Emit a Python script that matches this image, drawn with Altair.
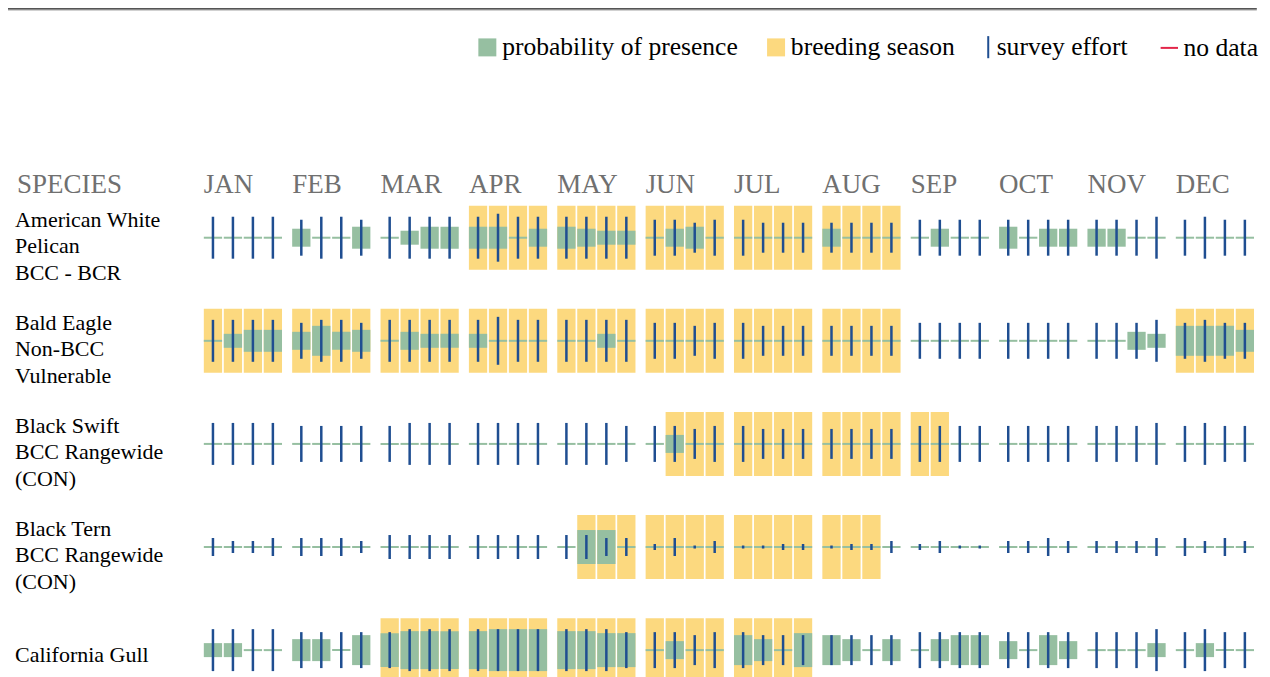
import altair as alt
import pandas as pd

# ---------------- data ----------------
MONTHS = ["JAN", "FEB", "MAR", "APR", "MAY", "JUN", "JUL", "AUG", "SEP", "OCT", "NOV", "DEC"]
WEEKS = ["W1", "W2", "W3", "W4"]

SPECIES = ["American White Pelican", "Bald Eagle", "Black Swift", "Black Tern", "California Gull"]
SPECIES_LABELS = [
    "American White\nPelican\nBCC - BCR",
    "Bald Eagle\nNon-BCC\nVulnerable",
    "Black Swift\nBCC Rangewide\n(CON)",
    "Black Tern\nBCC Rangewide\n(CON)",
    "California Gull",
]

# probability of presence, 0-10, four weeks per month (JAN..DEC)
PRESENCE = {
    "American White Pelican": [0, 0, 0, 0, 4, 0, 0, 5, 0, 3, 5, 5, 5, 5, 0, 4, 5, 4, 3, 3, 0, 4, 5, 0,
                               0, 0, 0, 0, 4, 0, 0, 0, 0, 4, 0, 0, 5, 0, 4, 4, 4, 4, 0, 0, 0, 0, 0, 0],
    "Bald Eagle":             [0, 3, 5, 5, 4, 7, 4, 5, 0, 4, 3, 3, 3, 0, 0, 0, 0, 0, 3, 0, 0, 0, 0, 0,
                               0, 0, 0, 0, 0, 0, 0, 0, 0, 0, 0, 0, 0, 0, 0, 0, 0, 0, 4, 3, 7, 7, 7, 5],
    "Black Swift":            [0, 0, 0, 0, 0, 0, 0, 0, 0, 0, 0, 0, 0, 0, 0, 0, 0, 0, 0, 0, 0, 4, 0, 0,
                               0, 0, 0, 0, 0, 0, 0, 0, 0, 0, 0, 0, 0, 0, 0, 0, 0, 0, 0, 0, 0, 0, 0, 0],
    "Black Tern":             [0, 0, 0, 0, 0, 0, 0, 0, 0, 0, 0, 0, 0, 0, 0, 0, 0, 8, 8, 0, 0, 0, 0, 0,
                               0, 0, 0, 0, 0, 0, 0, 0, 0, 0, 0, 0, 0, 0, 0, 0, 0, 0, 0, 0, 0, 0, 0, 0],
    "California Gull":        [3, 3, 0, 0, 5, 5, 0, 7, 8, 9, 9, 9, 9, 10, 10, 10, 9, 9, 8, 8, 0, 4, 0, 0,
                               7, 5, 0, 8, 7, 5, 0, 5, 0, 5, 7, 7, 4, 0, 7, 4, 0, 0, 0, 3, 0, 3, 0, 0],
}

# survey effort level, 0-8
EFFORT = {
    "American White Pelican": [7, 7, 7, 7, 6, 7, 7, 6, 7, 7, 7, 7, 7, 8, 7, 7, 7, 7, 7, 7, 6, 6, 5, 6,
                               6, 5, 5, 5, 5, 5, 5, 5, 6, 6, 6, 6, 6, 6, 6, 6, 6, 6, 6, 7, 6, 7, 6, 6],
    "Bald Eagle":             [7, 7, 7, 7, 6, 7, 7, 6, 7, 7, 7, 7, 7, 8, 7, 7, 7, 7, 7, 7, 6, 6, 5, 6,
                               6, 5, 5, 5, 5, 5, 5, 5, 6, 6, 6, 6, 6, 6, 6, 6, 6, 6, 6, 7, 6, 7, 6, 6],
    "Black Swift":            [7, 7, 7, 7, 6, 6, 6, 6, 6, 7, 7, 7, 7, 7, 7, 7, 7, 7, 7, 6, 6, 6, 5, 6,
                               6, 5, 5, 5, 5, 5, 5, 5, 6, 6, 6, 6, 6, 6, 6, 6, 6, 6, 6, 7, 6, 7, 6, 6],
    "Black Tern":             [3, 2, 2, 3, 3, 3, 3, 2, 4, 4, 4, 4, 4, 4, 4, 4, 4, 4, 3, 3, 1, 3, 0, 2,
                               0, 0, 1, 1, 0, 1, 1, 2, 1, 2, 0, 0, 2, 2, 3, 2, 2, 2, 2, 3, 3, 2, 3, 2],
    "California Gull":        [7, 7, 7, 7, 6, 6, 6, 6, 6, 7, 7, 7, 7, 7, 7, 7, 7, 7, 7, 6, 6, 6, 5, 6,
                               6, 5, 5, 5, 5, 5, 5, 5, 6, 6, 6, 6, 6, 6, 6, 6, 6, 6, 6, 7, 6, 7, 6, 6],
}

# breeding season spans: (start month, start week, end month, end week)
BREEDING = {
    "American White Pelican": [("APR", 1, "AUG", 4)],
    "Bald Eagle": [("JAN", 1, "AUG", 4), ("DEC", 1, "DEC", 4)],
    "Black Swift": [("JUN", 2, "SEP", 2)],
    "Black Tern": [("MAY", 2, "AUG", 3)],
    "California Gull": [("MAR", 1, "JUL", 4)],
}

LEGEND_SQUARES = ["probability of presence", "breeding season"]
LEGEND_LINES = ["survey effort", "no data"]

# ---------------- styles ----------------
PRESENCE_COLOR = "#96BFA1"
BREEDING_COLOR = "#FCD97F"
EFFORT_COLOR = "#1F4E91"
NODATA_COLOR = "#E3264A"
GRAY = "#707070"
SERIF = "Liberation Serif"

PITCH = 103.2      # px per species row
CELL = 64.0        # px height of a week cell
BAR_BASE = 2.0     # px height of a zero-probability bar
BAR_STEP = 4.0     # px per probability level
EFF_STEP = 6.0     # px per effort level
EFF_MIN = 3.0
LINE_H = 26.6      # species label line height

W = 1051.2
H = 5 * PITCH


def week_index(m, w):
    return MONTHS.index(m) * 4 + (w - 1)


rows = []
for r, sp in enumerate(SPECIES):
    spans = [(week_index(a, b), week_index(c, d)) for a, b, c, d in BREEDING[sp]]
    for i in range(48):
        rows.append(dict(
            species=sp, row=r, month=MONTHS[i // 4], week=WEEKS[i % 4],
            prob=PRESENCE[sp][i], effort=EFFORT[sp][i],
            breeding=int(any(s <= i <= e for s, e in spans)),
        ))
df = pd.DataFrame(rows)

x_scale = alt.Scale(domain=MONTHS, paddingInner=0.115, paddingOuter=0)
xo_scale = alt.Scale(domain=WEEKS, paddingInner=0.085, paddingOuter=0)
y_scale = alt.Scale(domain=[0, 5], reverse=True, nice=False, zero=False)

x_enc = alt.X("month:N", scale=x_scale, axis=None)
xo_enc = alt.XOffset("week:N", scale=xo_scale)

base = alt.Chart(df).transform_calculate(
    b0=f"datum.row + 0.5 - {CELL / 2 / PITCH}",
    b1=f"datum.row + 0.5 + {CELL / 2 / PITCH}",
    p0=f"datum.row + 0.5 - ({BAR_BASE} + {BAR_STEP} * datum.prob) / {2 * PITCH}",
    p1=f"datum.row + 0.5 + ({BAR_BASE} + {BAR_STEP} * datum.prob) / {2 * PITCH}",
    e0=f"datum.row + 0.5 - max({EFF_STEP} * datum.effort, {EFF_MIN}) / {2 * PITCH}",
    e1=f"datum.row + 0.5 + max({EFF_STEP} * datum.effort, {EFF_MIN}) / {2 * PITCH}",
)

breeding = base.transform_filter("datum.breeding == 1").mark_bar(color=BREEDING_COLOR).encode(
    x=x_enc, xOffset=xo_enc,
    y=alt.Y("b0:Q", scale=y_scale, axis=None), y2="b1:Q",
)
presence = base.mark_bar(color=PRESENCE_COLOR).encode(
    x=x_enc, xOffset=xo_enc,
    y=alt.Y("p0:Q", scale=y_scale, axis=None), y2="p1:Q",
)
effort = base.mark_rule(color=EFFORT_COLOR, strokeWidth=2.5).encode(
    x=x_enc, xOffset=xo_enc,
    y=alt.Y("e0:Q", scale=y_scale, axis=None), y2="e1:Q",
)

month_text = alt.Chart(pd.DataFrame({"month": MONTHS})).mark_text(
    align="left", baseline="alphabetic", font=SERIF, fontSize=27, color=GRAY
).encode(
    x=alt.X("month:N", scale=x_scale, axis=None, bandPosition=0),
    y=alt.value(7),
    text="month:N",
)

species_header = alt.Chart(pd.DataFrame({"h": ["SPECIES"]})).mark_text(
    align="left", baseline="alphabetic", font=SERIF, fontSize=27, color=GRAY
).encode(x=alt.value(-187), y=alt.value(7), text="h:N")

species_text = alt.Chart(pd.DataFrame({"label": SPECIES_LABELS, "row": list(range(len(SPECIES)))})).transform_calculate(
    n="length(split(datum.label, '\\n'))"
).transform_calculate(
    c=f"datum.row + 0.5 + (4.5 + 2 * (datum.n - 1) - (datum.n - 1) * {LINE_H / 2}) / {PITCH}"
).mark_text(
    align="left", baseline="middle", font=SERIF, fontSize=22, lineHeight=LINE_H,
    lineBreak="\n", color="black"
).encode(
    x=alt.value(-189),
    y=alt.Y("c:Q", scale=y_scale, axis=None),
    text="label:N",
)

one = pd.DataFrame({"a": [0]})
top_line = alt.Chart(one).mark_rule(color="#555555", strokeWidth=2).encode(
    x=alt.value(-196), x2=alt.value(1054), y=alt.value(-177.5)
)
top_line2 = alt.Chart(one).mark_rule(color="#c8c8c8", strokeWidth=1).encode(
    x=alt.value(-196), x2=alt.value(1054), y=alt.value(-176)
)

legend1 = alt.Legend(
    orient="none", legendX=271, legendY=-152, direction="horizontal", title=None,
    labelFont=SERIF, labelFontSize=25.6, labelColor="black", labelOffset=2, labelLimit=500,
    columnPadding=25, symbolSize=324, symbolStrokeWidth=0, symbolType="square", padding=0,
)
leg_sq = alt.Chart(pd.DataFrame({"item": LEGEND_SQUARES})).transform_filter("false").mark_point(
    filled=True, opacity=1, shape="square"
).encode(
    fill=alt.Fill("item:N", scale=alt.Scale(domain=LEGEND_SQUARES, range=[PRESENCE_COLOR, BREEDING_COLOR]),
                  legend=legend1)
)

legend2 = alt.Legend(
    orient="none", legendX=766, legendY=-152, direction="horizontal", title=None,
    labelFont=SERIF, labelFontSize=25.6, labelColor="black", labelOffset=2, labelLimit=500,
    columnPadding=28, symbolSize=289, symbolStrokeWidth=2, padding=0,
)
leg_ln = alt.Chart(pd.DataFrame({"item2": LEGEND_LINES})).transform_filter("false").mark_point(
    filled=False, opacity=1
).encode(
    stroke=alt.Stroke("item2:N", scale=alt.Scale(domain=LEGEND_LINES, range=[EFFORT_COLOR, NODATA_COLOR]),
                      legend=legend2),
    shape=alt.Shape("item2:N", scale=alt.Scale(domain=LEGEND_LINES,
                                               range=["M0.75,-1.3L0.75,1.3", "M-0.95,0L1.1,0"]),
                    legend=legend2),
)

chart = alt.layer(
    breeding, presence, effort, month_text, species_header, species_text,
    top_line, top_line2, leg_sq, leg_ln
).properties(
    width=W, height=H,
    padding={"left": 196, "top": 178, "right": 8, "bottom": 0},
    autosize=alt.AutoSizeParams(type="none"),
).configure_view(stroke=None)

chart.save("out.html", embed_options={"renderer": "svg", "actions": False})
